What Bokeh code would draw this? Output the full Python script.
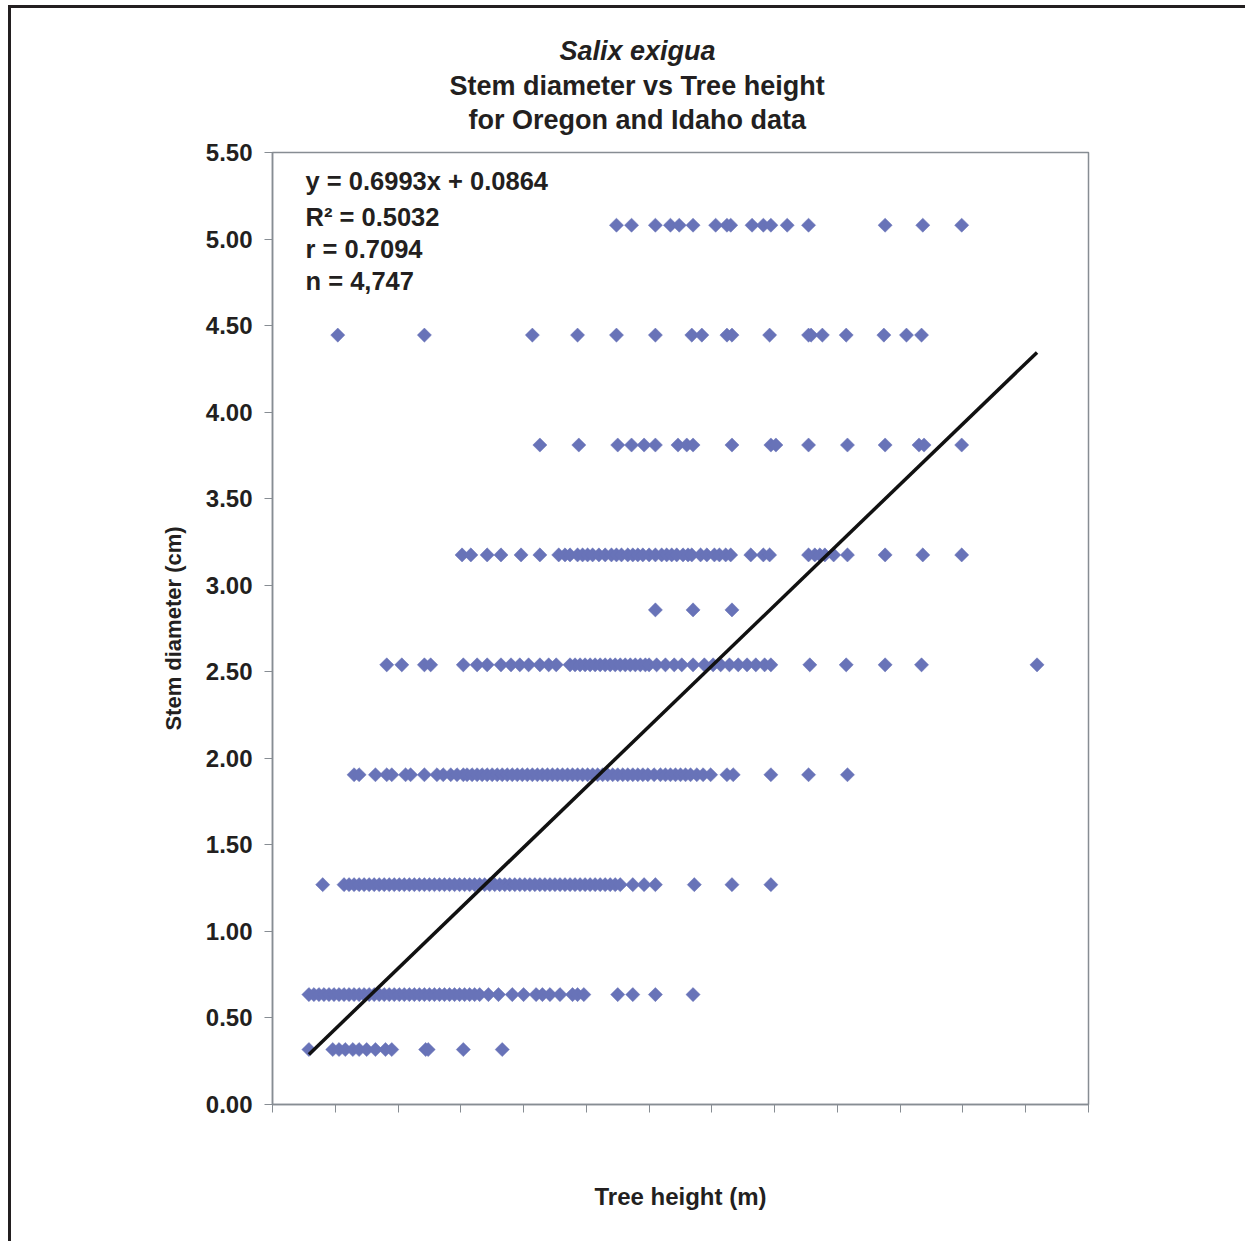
import math
from bokeh.plotting import figure
from bokeh.models import Range1d, FixedTicker, Label, NumeralTickFormatter, CustomJSTickFormatter, Title
from bokeh.embed import file_html
from bokeh.resources import INLINE

# ---- data (heights in m, diameters in cm) ----
diameter_levels = [5.08, 4.445, 3.81, 3.175, 2.8575, 2.54, 1.905, 1.27, 0.635, 0.3175]

h_508 = [2.74, 2.86, 3.05, 3.17, 3.24, 3.35, 3.53, 3.62, 3.65, 3.82, 3.91, 3.97, 4.10, 4.27, 4.88, 5.18, 5.49]
h_445 = [0.52, 1.21, 2.07, 2.43, 2.74, 3.05, 3.34, 3.42, 3.62, 3.66, 3.96, 4.27, 4.29, 4.38, 4.57, 4.87, 5.05, 5.17]
h_381 = [2.13, 2.44, 2.75, 2.86, 2.96, 3.05, 3.23, 3.30, 3.35, 3.66, 3.97, 4.01, 4.27, 4.58, 4.88, 5.15, 5.19, 5.49]
h_318 = [1.51, 1.58, 1.71, 1.82, 1.98, 2.13, 2.28, 2.33, 2.37, 2.43, 2.47, 2.51, 2.55, 2.60, 2.65, 2.70,
         2.74, 2.78, 2.83, 2.87, 2.91, 2.95, 3.00, 3.05, 3.10, 3.14, 3.18, 3.22, 3.27, 3.31, 3.34, 3.41,
         3.46, 3.52, 3.56, 3.61, 3.65, 3.81, 3.91, 3.96, 4.27, 4.32, 4.36, 4.40, 4.47, 4.58, 4.88, 5.18, 5.49]
h_286 = [3.05, 3.35, 3.66]
h_254 = [0.91, 1.03, 1.21, 1.26, 1.52, 1.63, 1.71, 1.82, 1.90, 1.97, 2.04, 2.13, 2.20, 2.26, 2.37, 2.41,
         2.45, 2.49, 2.53, 2.57, 2.61, 2.65, 2.69, 2.73, 2.77, 2.81, 2.85, 2.89, 2.93, 2.97, 3.00, 3.06,
         3.13, 3.20, 3.26, 3.35, 3.44, 3.51, 3.57, 3.64, 3.71, 3.78, 3.85, 3.92, 3.97, 4.28, 4.57, 4.88,
         5.17, 6.09]
h_191 = [0.65, 0.69, 0.82, 0.91, 0.95, 1.06, 1.10, 1.21, 1.31, 1.36, 1.42, 1.47, 1.52, 1.55, 1.59, 1.63,
         1.67, 1.71, 1.75, 1.79, 1.83, 1.87, 1.91, 1.95, 1.99, 2.03, 2.07, 2.11, 2.15, 2.19, 2.23, 2.27,
         2.31, 2.35, 2.39, 2.43, 2.47, 2.51, 2.55, 2.59, 2.63, 2.67, 2.71, 2.75, 2.79, 2.83, 2.87, 2.91,
         2.95, 2.99, 3.04, 3.09, 3.13, 3.17, 3.21, 3.25, 3.29, 3.33, 3.38, 3.43, 3.49, 3.62, 3.67, 3.97,
         4.27, 4.58]
h_127 = [0.40, 0.57, 0.61, 0.65, 0.69, 0.73, 0.77, 0.81, 0.85, 0.89, 0.93, 0.97, 1.01, 1.05, 1.09, 1.13,
         1.17, 1.21, 1.25, 1.29, 1.33, 1.37, 1.41, 1.45, 1.49, 1.53, 1.57, 1.61, 1.65, 1.69, 1.73, 1.77,
         1.81, 1.85, 1.89, 1.93, 1.97, 2.01, 2.05, 2.09, 2.13, 2.17, 2.21, 2.25, 2.29, 2.33, 2.37, 2.41,
         2.45, 2.49, 2.53, 2.57, 2.61, 2.65, 2.69, 2.73, 2.77, 2.87, 2.96, 3.05, 3.36, 3.66, 3.97]
h_064 = [0.29, 0.33, 0.37, 0.41, 0.45, 0.49, 0.53, 0.57, 0.61, 0.65, 0.69, 0.73, 0.77, 0.81, 0.85, 0.89,
         0.93, 0.97, 1.01, 1.05, 1.09, 1.13, 1.17, 1.21, 1.25, 1.29, 1.33, 1.37, 1.41, 1.45, 1.49, 1.53,
         1.57, 1.61, 1.65, 1.72, 1.80, 1.91, 2.00, 2.10, 2.15, 2.21, 2.29, 2.39, 2.43, 2.48, 2.75, 2.87,
         3.05, 3.35]
h_032 = [0.29, 0.48, 0.53, 0.58, 0.64, 0.69, 0.75, 0.82, 0.90, 0.95, 1.22, 1.24, 1.52, 1.83]

heights_by_level = [h_508, h_445, h_381, h_318, h_286, h_254, h_191, h_127, h_064, h_032]

fit_slope = 0.6993
fit_intercept = 0.0864

x_ticks = [0.0, 0.5, 1.0, 1.5, 2.0, 2.5, 3.0, 3.5, 4.0, 4.5, 5.0, 5.5, 6.0, 6.5]
y_ticks = [0.0, 0.5, 1.0, 1.5, 2.0, 2.5, 3.0, 3.5, 4.0, 4.5, 5.0, 5.5]

title_lines = ["Salix exigua", "Stem diameter vs Tree height", "for Oregon and Idaho data"]
stats_lines = ["y = 0.6993x + 0.0864", "R\u00b2 = 0.5032", "r = 0.7094", "n = 4,747"]

xs, ys = [], []
for d, hs in zip(diameter_levels, heights_by_level):
    xs += hs
    ys += [d] * len(hs)

FONT = "Liberation Sans"
TXT = "#231f20"
GRAY = "#878d93"
MARK = "#6873b8"

p = figure(width=1237, height=1236, x_range=Range1d(0, 6.5), y_range=Range1d(0, 5.5),
           output_backend="svg", toolbar_location=None,
           min_border_left=261, min_border_right=160, min_border_top=144, min_border_bottom=140)
p.styles = {"border-top": "3px solid #231f20", "border-left": "3px solid #231f20",
            "margin-left": "8px", "margin-top": "5px"}

p.scatter(xs, ys, marker="square", size=10, angle=math.pi / 4,
          fill_color=MARK, line_color=MARK, line_width=0.5)

x0, x1 = min(xs), max(xs)
p.line([x0, x1], [fit_slope * x0 + fit_intercept, fit_slope * x1 + fit_intercept],
       line_color="#111111", line_width=3.5)

p.xgrid.visible = False
p.ygrid.visible = False
p.outline_line_color = GRAY
p.outline_line_width = 1.5

for ax in (p.xaxis, p.yaxis):
    ax.axis_line_color = GRAY
    ax.axis_line_width = 1.5
    ax.major_tick_line_color = GRAY
    ax.major_tick_out = 8
    ax.major_tick_in = 0
    ax.minor_tick_out = 0
    ax.minor_tick_in = 0
    ax.axis_label_text_font = FONT
    ax.axis_label_text_font_style = "bold"
    ax.axis_label_text_color = TXT
    ax.major_label_text_font = FONT
    ax.major_label_text_font_style = "bold"
    ax.major_label_text_color = TXT

p.xaxis.ticker = FixedTicker(ticks=x_ticks)
p.xaxis.formatter = CustomJSTickFormatter(code="return ''")
p.xaxis.axis_label = "Tree height (m)"
p.xaxis.axis_label_text_font_size = "24px"
p.xaxis.axis_label_standoff = 70

p.yaxis.ticker = FixedTicker(ticks=y_ticks)
p.yaxis.formatter = NumeralTickFormatter(format="0.00")
p.yaxis.major_label_text_font_size = "24px"
p.yaxis.major_label_standoff = 12
p.yaxis.axis_label = "Stem diameter (cm)"
p.yaxis.axis_label_text_font_size = "22px"
p.yaxis.axis_label_standoff = 17

# title: three stacked lines
title_offsets = [287, 177, 196]
title_styles = ["bold italic", "bold", "bold"]
title_valign = ["bottom", "bottom", "top"]
title_standoff = [30, -24, 32]

p.title.text = title_lines[0]          # outermost line
p.title.align = "left"
p.title.offset = title_offsets[0]
p.title.text_font = FONT
p.title.text_font_size = "27px"
p.title.text_font_style = title_styles[0]
p.title.text_color = TXT
p.title.vertical_align = title_valign[0]
p.title.standoff = title_standoff[0]
for i in (2, 1):                       # closest to the frame first
    p.add_layout(Title(text=title_lines[i], align="left", offset=title_offsets[i],
                       text_font=FONT, text_font_size="27px", text_font_style=title_styles[i],
                       text_color=TXT, vertical_align=title_valign[i],
                       standoff=title_standoff[i]), "above")

stats_y = [5.338, 5.130, 4.940, 4.755]
for t, sy in zip(stats_lines, stats_y):
    p.add_layout(Label(x=0.263, y=sy, text=t, text_align="left", text_baseline="middle",
                       text_font=FONT, text_font_size="25.5px", text_font_style="bold", text_color=TXT))

open("out.html", "w").write(file_html(p, INLINE))
